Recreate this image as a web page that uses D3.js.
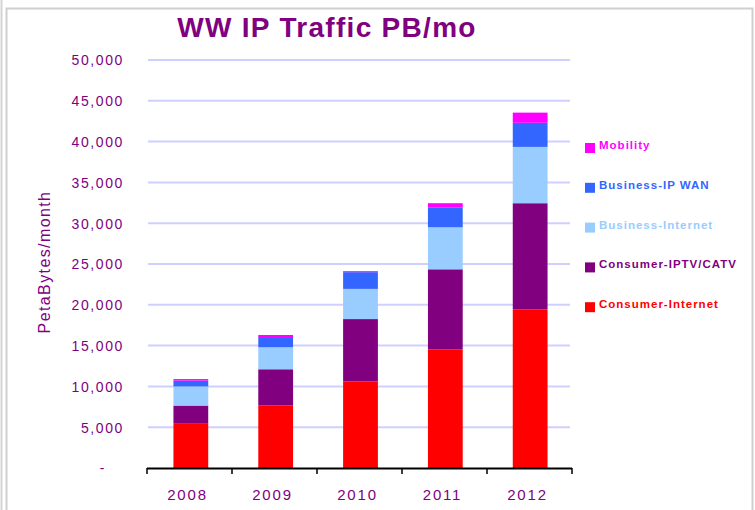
<!DOCTYPE html>
<html>
<head>
<meta charset="utf-8">
<script src="https://cdn.jsdelivr.net/npm/d3@7"></script>
<style>
  html, body { margin: 0; padding: 0; background: #fff; }
  svg { display: block; }
  text { font-family: "Liberation Sans", Arial, sans-serif; }
</style>
</head>
<body>
<svg id="chart" width="755" height="510"></svg>
<script>
// ---- data ----
const years = ["2008", "2009", "2010", "2011", "2012"];
const seriesNames = ["Consumer-Internet", "Consumer-IPTV/CATV", "Business-Internet", "Business-IP WAN", "Mobility"];
const consumerInternet = [5500, 7650, 10600, 14550, 19450];
const consumerIPTV     = [2150, 4450, 7650, 9800, 13000];
const businessInternet = [2350, 2700, 3700, 5150, 6900];
const businessIPWAN    = [700, 1250, 2050, 2450, 2950];
const mobility         = [200, 250, 120, 500, 1250];
const yTicks = [0, 5000, 10000, 15000, 20000, 25000, 30000, 35000, 40000, 45000, 50000];
const colors = ["#ff0000", "#800080", "#99ccff", "#3366ff", "#ff00ff"];

const seriesValues = [consumerInternet, consumerIPTV, businessInternet, businessIPWAN, mobility];
const table = years.map((y, i) => {
  const row = { year: y };
  seriesNames.forEach((s, j) => row[s] = seriesValues[j][i]);
  return row;
});

const svg = d3.select("#chart");
const purple = "#800080";

// frame
svg.append("line").attr("x1", 1.5).attr("x2", 1.5).attr("y1", 0).attr("y2", 510)
  .attr("stroke", "#d4d4d4").attr("stroke-width", 2);
svg.append("rect").attr("x", 6.5).attr("y", 8.5).attr("width", 746).attr("height", 520)
  .attr("fill", "#fff").attr("stroke", "#cfcfcf").attr("stroke-width", 2);

const plot = { left: 147, right: 572, top: 60, bottom: 468 };
const x = d3.scaleBand().domain(years).range([plot.left, plot.right]).paddingInner(0.59).paddingOuter(0.3);
const xOuter = d3.scaleBand().domain(years).range([plot.left, plot.right]);
const y = d3.scaleLinear().domain([0, 50000]).range([plot.bottom, plot.top]);

// gridlines
svg.append("g").selectAll("line").data(yTicks.filter(d => d > 0)).join("line")
  .attr("x1", plot.left + 1).attr("x2", plot.right - 2)
  .attr("y1", d => y(d)).attr("y2", d => y(d))
  .attr("stroke", "#d0d0ff").attr("stroke-width", 2);

// y axis labels
const yAxis = d3.axisLeft(y).tickValues(yTicks)
  .tickFormat(d => d === 0 ? "-" : d3.format(",")(d)).tickSize(0).tickPadding(0);
const gy = svg.append("g").attr("transform", `translate(124,0)`).call(yAxis);
gy.select(".domain").remove();
gy.selectAll("text").attr("fill", purple).attr("font-size", 14)
  .attr("letter-spacing", 1.6).attr("dy", "0.35em")
  .style("font-family", "'Liberation Sans', Arial, sans-serif");
gy.selectAll(".tick").filter(d => d === 0).select("text").attr("x", -18);

// bars
const stack = d3.stack().keys(seriesNames)(table);
svg.append("g").selectAll("g").data(stack).join("g")
  .attr("fill", (d, i) => colors[i])
  .selectAll("rect").data(d => d).join("rect")
  .attr("x", d => x(d.data.year) + 1)
  .attr("width", x.bandwidth())
  .attr("y", d => y(d[1]))
  .attr("height", d => y(d[0]) - y(d[1]));

// x axis
const gx = svg.append("g");
gx.append("line").attr("x1", plot.left).attr("x2", plot.right)
  .attr("y1", plot.bottom + 0.5).attr("y2", plot.bottom + 0.5)
  .attr("stroke", "#000").attr("stroke-width", 2);
const bounds = years.map(d => xOuter(d)).concat([xOuter(years[years.length - 1]) + xOuter.bandwidth()]);
gx.selectAll("line.tk").data(bounds).join("line").attr("class", "tk")
  .attr("x1", d => d).attr("x2", d => d)
  .attr("y1", plot.bottom).attr("y2", plot.bottom + 6)
  .attr("stroke", "#000").attr("stroke-width", 1.5);
gx.selectAll("text").data(years).join("text")
  .attr("x", d => xOuter(d) + xOuter.bandwidth() / 2 - 2)
  .attr("y", 500)
  .attr("text-anchor", "middle")
  .attr("fill", purple).attr("font-size", 15).attr("letter-spacing", 1.8)
  .text(d => d);

// title
svg.append("text").attr("x", 327).attr("y", 37).attr("text-anchor", "middle")
  .attr("fill", purple).attr("font-size", 28).attr("font-weight", "bold")
  .attr("letter-spacing", 1.3)
  .text("WW IP Traffic PB/mo");

// y axis title
svg.append("text").attr("transform", "translate(50,262) rotate(-90)")
  .attr("text-anchor", "middle").attr("fill", purple)
  .attr("font-size", 16).attr("letter-spacing", 1.4)
  .text("PetaBytes/month");

// legend (top: Mobility ... bottom: Consumer-Internet)
const legendOrder = seriesNames.map((s, i) => ({ name: s, color: colors[i] })).reverse();
const lg = svg.append("g").selectAll("g").data(legendOrder).join("g")
  .attr("transform", (d, i) => `translate(585,${148 + i * 39.8})`);
lg.append("rect").attr("x", 0).attr("y", -5).attr("width", 10).attr("height", 10)
  .attr("fill", d => d.color);
lg.append("text").attr("x", 14).attr("y", 1)
  .attr("fill", d => d.color).attr("font-size", 11.5).attr("font-weight", "bold")
  .attr("letter-spacing", 1.0)
  .text(d => d.name);
</script>
</body>
</html>
